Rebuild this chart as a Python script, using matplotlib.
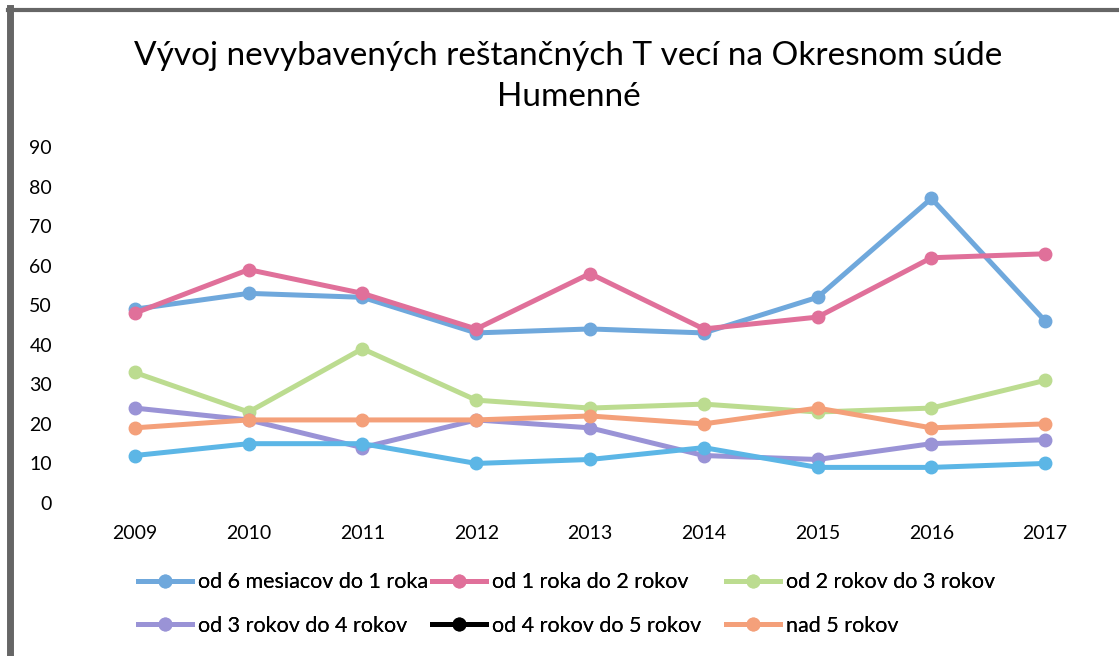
import matplotlib
matplotlib.use('Agg')
import matplotlib.pyplot as plt
from matplotlib.lines import Line2D

plt.rcParams['font.family'] = ['Lato', 'DejaVu Sans']

roky = ['2009', '2010', '2011', '2012', '2013', '2014', '2015', '2016', '2017']
od_6m_do_1r = [49, 53, 52, 43, 44, 43, 52, 77, 46]
od_1r_do_2r = [48, 59, 53, 44, 58, 44, 47, 62, 63]
od_2r_do_3r = [33, 23, 39, 26, 24, 25, 23, 24, 31]
od_3r_do_4r = [24, 21, 14, 21, 19, 12, 11, 15, 16]
od_4r_do_5r = [12, 15, 15, 10, 11, 14, 9, 9, 10]
nad_5r = [19, 21, 21, 21, 22, 20, 24, 19, 20]

nazvy = ['od 6 mesiacov do 1 roka', 'od 1 roka do 2 rokov', 'od 2 rokov do 3 rokov',
         'od 3 rokov do 4 rokov', 'od 4 rokov do 5 rokov', 'nad 5 rokov']
farby = ['#6fa8dc', '#e0709a', '#bcdc90', '#9a93d6', '#5cb6e6', '#f4a07a']
legend_farby = ['#6fa8dc', '#e0709a', '#bcdc90', '#9a93d6', 'black', '#f4a07a']

fig = plt.figure(figsize=(11.19, 6.56), dpi=100)
ax = fig.add_axes([95 / 1119, (656 - 503) / 656, 990 / 1119, (503 - 147) / 656])

x = range(len(roky))
# poradie kreslenia: spodne ciary najprv
for d, f in zip([od_2r_do_3r, od_3r_do_4r, nad_5r, od_4r_do_5r, od_6m_do_1r, od_1r_do_2r],
                [farby[2], farby[3], farby[5], farby[4], farby[0], farby[1]]):
    ax.plot(x, d, color=f, linewidth=3.6, marker='o', markersize=9)

ax.set_xlim(-0.35, 8.35)
ax.set_ylim(0, 90)
ax.set_yticks(range(0, 91, 10))
ax.set_xticks(list(x))
ax.set_xticklabels(roky)
for s in ax.spines.values():
    s.set_visible(False)
ax.tick_params(length=0, labelsize=14)
ax.tick_params(axis='y', pad=31)
ax.tick_params(axis='x', pad=16)

fig.text(0.508, 0.915, 'Vývoj nevybavených reštančných T vecí na Okresnom súde',
         ha='center', va='center', fontsize=24)
fig.text(0.508, 0.852, 'Humenné', ha='center', va='center', fontsize=24)

# legenda: tri stlpce, kazdy zvlast
handles = [Line2D([0], [0], color=c, linewidth=3.6, marker='o', markersize=9) for c in legend_farby]
for i, xs in enumerate([138, 432, 726]):
    leg = fig.legend([handles[i], handles[i + 3]], [nazvy[i], nazvy[i + 3]],
                     loc='center left', bbox_to_anchor=(xs / 1119, 1 - 604 / 656),
                     frameon=False, fontsize=15.5, labelspacing=1.1, handlelength=2.5,
                     handletextpad=0.3, borderpad=0, borderaxespad=0)
    fig.add_artist(leg)

# ram okolo grafu
fig.add_artist(Line2D([10 / 1119, 10 / 1119], [0, 1 - 8 / 656], color='#666666', linewidth=5,
                      transform=fig.transFigure))
fig.add_artist(Line2D([8 / 1119, 1], [1 - 10 / 656, 1 - 10 / 656], color='#666666', linewidth=3,
                      transform=fig.transFigure))

fig.savefig('out.png', dpi=100)
